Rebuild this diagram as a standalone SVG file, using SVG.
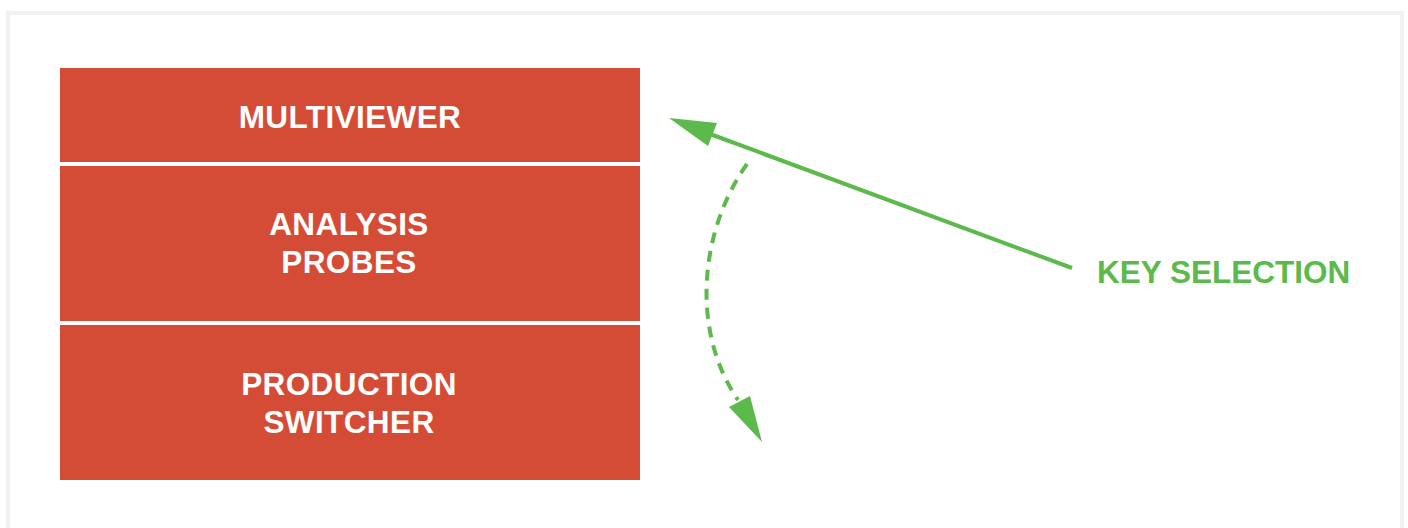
<svg xmlns="http://www.w3.org/2000/svg" width="1408" height="528" viewBox="0 0 1408 528">
  <style>
    .box { fill: #d44c35; }
    .lbl { font-family: "Liberation Sans", Arial, sans-serif; font-weight: bold; font-size: 31.5px; letter-spacing: 0.4px; fill: #ffffff; text-anchor: middle; }
    .key { font-family: "Liberation Sans", Arial, sans-serif; font-weight: bold; font-size: 31.5px; fill: #5cb94b; }
    .ln { stroke: #5cb94b; stroke-width: 4; fill: none; }
    .ah { fill: #5cb94b; }
  </style>
  <rect x="8" y="13" width="1394" height="530" fill="#ffffff" stroke="#f0f1f3" stroke-width="4"/>
  <g id="multiviewer">
    <rect class="box" x="60" y="68" width="580" height="94"/>
    <text class="lbl" x="350" y="128">MULTIVIEWER</text>
  </g>
  <g id="analysis-probes">
    <rect class="box" x="60" y="166" width="580" height="155"/>
    <text class="lbl" x="349" y="235">ANALYSIS</text>
    <text class="lbl" x="349" y="273">PROBES</text>
  </g>
  <g id="production-switcher">
    <rect class="box" x="60" y="325" width="580" height="155"/>
    <text class="lbl" x="349" y="395">PRODUCTION</text>
    <text class="lbl" x="349" y="433">SWITCHER</text>
  </g>
  <g id="key-selection">
    <text class="key" x="1097" y="283">KEY SELECTION</text>
  </g>
  <g id="connectors">
    <line class="ln" x1="1072" y1="268" x2="710" y2="134"/>
    <polygon class="ah" points="669,118 717,123 708,146"/>
    <path class="ln" d="M747,164 C700,230 690,330 738,400" stroke-dasharray="11,8"/>
    <polygon class="ah" points="762,442 729,407 750,396"/>
  </g>
</svg>
